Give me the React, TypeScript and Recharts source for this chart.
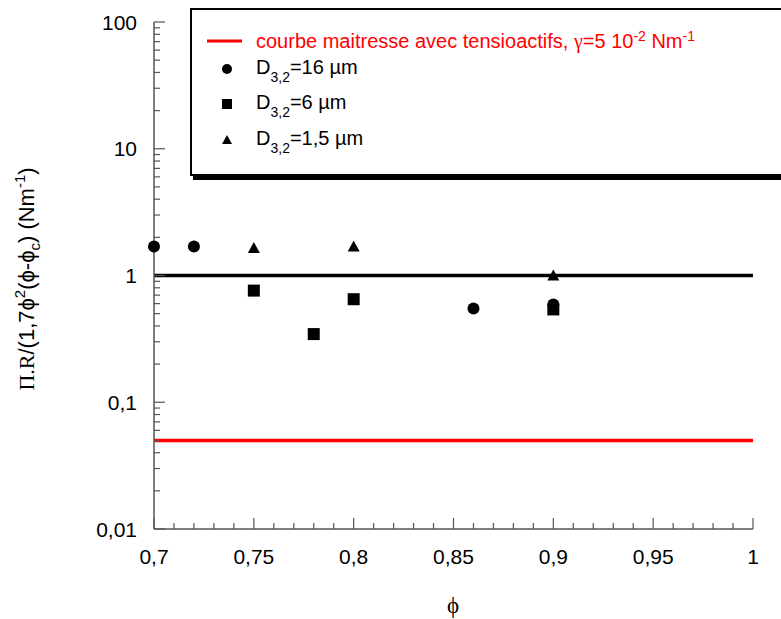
import React from 'react'
import { ScatterChart, Scatter, XAxis, YAxis, ReferenceLine } from 'recharts'

// D3,2 = 16 µm (circles)
const phi16 = [0.7, 0.72, 0.86, 0.9]
const val16 = [1.69, 1.69, 0.55, 0.59]
// D3,2 = 6 µm (squares)
const phi6 = [0.75, 0.78, 0.8, 0.9]
const val6 = [0.76, 0.345, 0.65, 0.54]
// D3,2 = 1,5 µm (triangles)
const phi15 = [0.75, 0.8, 0.9]
const val15 = [1.65, 1.69, 1.0]

const masterCurve = 0.05
const unityLine = 1

const xMajor = [0.7, 0.75, 0.8, 0.85, 0.9, 0.95, 1]
const xLabels = ['0,7', '0,75', '0,8', '0,85', '0,9', '0,95', '1']
const yMajor = [0.01, 0.1, 1, 10, 100]
const yLabels = ['0,01', '0,1', '1', '10', '100']

const xTicks = Array.from({ length: 31 }, (_, i) => +(0.7 + i * 0.01).toFixed(2))
const yTicks = [
  ...yMajor.slice(0, -1).flatMap(d => [1, 2, 3, 4, 5, 6, 7, 8, 9].map(k => d * k)),
  100
]

const toPoints = (xs: number[], ys: number[]) => xs.map((x, i) => ({ x, y: ys[i] }))

const SANS = '"Liberation Sans", Arial, sans-serif'
const SERIF = '"Liberation Serif", "Times New Roman", serif'
const AXIS = '#555'

const isMajor = (list: number[], v: number) =>
  list.findIndex(m => Math.abs(m - v) < Math.abs(m) * 1e-6 + 1e-9)

function BottomTick({ x, y, payload }: any) {
  const i = isMajor(xMajor, payload.value)
  return (
    <g>
      <line x1={x} x2={x} y1={y} y2={y - (i >= 0 ? 11 : 6)} stroke={AXIS} strokeWidth={1.2} />
      {i >= 0 && (
        <text x={x} y={y + 35} textAnchor="middle" fontSize={21} fontFamily={SANS} fill="#000">
          {xLabels[i]}
        </text>
      )}
    </g>
  )
}

function TopTick({ x, y, payload }: any) {
  const i = isMajor(xMajor, payload.value)
  return <line x1={x} x2={x} y1={y} y2={y + (i >= 0 ? 11 : 6)} stroke={AXIS} strokeWidth={1.2} />
}

function LeftTick({ x, y, payload }: any) {
  const i = isMajor(yMajor, payload.value)
  return (
    <g>
      <line x1={x} x2={x + (i >= 0 ? 11 : 6)} y1={y} y2={y} stroke={AXIS} strokeWidth={1.2} />
      {i >= 0 && (
        <text x={x - 17} y={y} dy="0.36em" textAnchor="end" fontSize={21} fontFamily={SANS} fill="#000">
          {yLabels[i]}
        </text>
      )}
    </g>
  )
}

function RightTick({ x, y, payload }: any) {
  const i = isMajor(yMajor, payload.value)
  return <line x1={x} x2={x - (i >= 0 ? 11 : 6)} y1={y} y2={y} stroke={AXIS} strokeWidth={1.2} />
}

const Circle = ({ cx, cy }: any) => <circle cx={cx} cy={cy} r={6} fill="#000" />
const Square = ({ cx, cy }: any) => <rect x={cx - 6} y={cy - 6} width={12} height={12} fill="#000" />
const Triangle = ({ cx, cy }: any) => (
  <polygon points={`${cx},${cy - 6} ${cx + 6},${cy + 5} ${cx - 6},${cy + 5}`} fill="#000" />
)

function XTitle() {
  return (
    <text x={453} y={613} textAnchor="middle" fontSize={23} fontFamily={SERIF} fill="#000">
      ϕ
    </text>
  )
}

function YTitle() {
  return (
    <text transform="translate(34,279) rotate(-90)" textAnchor="middle" fontSize={22} fontFamily={SANS} fill="#000">
      <tspan fontFamily={SERIF}>Π.R</tspan>
      <tspan>/(1,7ϕ</tspan>
      <tspan dy={-9} fontSize={15}>2</tspan>
      <tspan dy={9}>(ϕ-ϕ</tspan>
      <tspan dy={6} fontSize={15}>c</tspan>
      <tspan dy={-6}>) (Nm</tspan>
      <tspan dy={-9} fontSize={15}>-1</tspan>
      <tspan dy={9}>)</tspan>
    </text>
  )
}

function LegendBox() {
  const row = (top: number, marker: React.ReactNode, text: React.ReactNode, color = '#000') => (
    <div style={{ position: 'absolute', left: 0, top, height: 30, width: 560 }}>
      <svg width={60} height={30} style={{ position: 'absolute', left: 0, top: 0 }}>
        {marker}
      </svg>
      <div style={{ position: 'absolute', left: 64, top: 2, fontSize: 20, fontFamily: SANS, color, whiteSpace: 'nowrap' }}>
        {text}
      </div>
    </div>
  )
  const d32 = (v: string) => (
    <>
      D<sub style={{ fontSize: 14, verticalAlign: -8 }}>3,2</sub>={v}
    </>
  )
  return (
    <div
      style={{
        position: 'absolute',
        left: 190,
        top: 8,
        width: 620,
        height: 164,
        border: '2px solid #000',
        background: '#fff',
        boxShadow: '3px 4px 0 #000'
      }}
    >
      {row(16, <line x1={15} x2={50} y1={15} y2={15} stroke="#ff0000" strokeWidth={3} />, (
        <>
          courbe maitresse avec tensioactifs, <span style={{ fontFamily: SERIF }}>γ</span>=5 10
          <sup style={{ fontSize: 14, verticalAlign: 7 }}>-2</sup> Nm<sup style={{ fontSize: 14, verticalAlign: 7 }}>-1</sup>
        </>
      ), '#ff0000')}
      {row(44, <circle cx={35} cy={15} r={5} fill="#000" />, d32('16 µm'))}
      {row(79, <rect x={30} y={10} width={10} height={10} fill="#000" />, d32('6 µm'))}
      {row(115, <polygon points="35,10 40,19 30,19" fill="#000" />, d32('1,5 µm'))}
    </div>
  )
}

export default function App() {
  return (
    <div style={{ position: 'relative', width: 781, height: 619, overflow: 'hidden', background: '#fff' }}>
      <style>{'body{margin:0;overflow:hidden}'}</style>
      <ScatterChart width={781} height={619} margin={{ top: 22, right: 28, bottom: 50, left: 94 }}>
        <XAxis
          dataKey="x"
          type="number"
          domain={[0.7, 1]}
          ticks={xTicks}
          interval={0}
          height={40}
          tickSize={0}
          tickMargin={0}
          tickLine={false}
          tick={<BottomTick />}
          axisLine={{ stroke: AXIS, strokeWidth: 1.5 }}
          label={<XTitle />}
        />
        <XAxis
          xAxisId="top"
          orientation="top"
          type="number"
          domain={[0.7, 1]}
          ticks={xTicks}
          interval={0}
          height={0}
          tickSize={0}
          tickMargin={0}
          tickLine={false}
          tick={<TopTick />}
          axisLine={{ stroke: AXIS, strokeWidth: 1.5 }}
        />
        <YAxis
          dataKey="y"
          type="number"
          scale="log"
          domain={[0.01, 100]}
          allowDataOverflow
          ticks={yTicks}
          interval={0}
          width={60}
          tickSize={0}
          tickMargin={0}
          tickLine={false}
          tick={<LeftTick />}
          axisLine={{ stroke: AXIS, strokeWidth: 1.5 }}
          label={<YTitle />}
        />
        <YAxis
          yAxisId="right"
          orientation="right"
          type="number"
          scale="log"
          domain={[0.01, 100]}
          allowDataOverflow
          ticks={yTicks}
          interval={0}
          width={0}
          tickSize={0}
          tickMargin={0}
          tickLine={false}
          tick={<RightTick />}
          axisLine={{ stroke: AXIS, strokeWidth: 1.5 }}
        />
        <ReferenceLine y={unityLine} stroke="#000" strokeWidth={3.5} />
        <ReferenceLine y={masterCurve} stroke="#ff0000" strokeWidth={3.5} />
        <Scatter data={toPoints(phi16, val16)} shape={<Circle />} isAnimationActive={false} />
        <Scatter data={toPoints(phi6, val6)} shape={<Square />} isAnimationActive={false} />
        <Scatter data={toPoints(phi15, val15)} shape={<Triangle />} isAnimationActive={false} />
      </ScatterChart>
      <LegendBox />
    </div>
  )
}
